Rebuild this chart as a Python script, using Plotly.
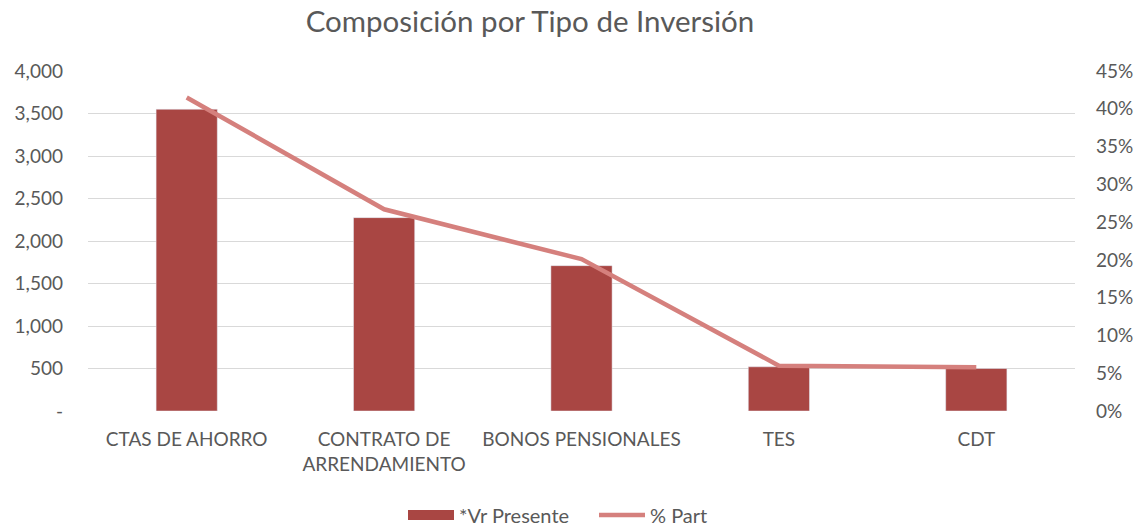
import plotly.graph_objects as go

categories = ["CTAS DE AHORRO", "CONTRATO DE<br>ARRENDAMIENTO", "BONOS PENSIONALES", "TES", "CDT"]
vr_presente = [3550, 2275, 1710, 520, 500]
pct_part = [0.415, 0.267, 0.201, 0.060, 0.058]

left_ticks = [0, 500, 1000, 1500, 2000, 2500, 3000, 3500, 4000]
left_labels = ["-", "500", "1,000", "1,500", "2,000", "2,500", "3,000", "3,500", "4,000"]
right_ticks = [0, 0.05, 0.10, 0.15, 0.20, 0.25, 0.30, 0.35, 0.40, 0.45]

FONT = "Lato"
GRAY = "#595959"
BAR = "#A94643"
LINE = "#D5807D"

fig = go.Figure()
fig.add_trace(go.Bar(x=categories, y=vr_presente, name="*Vr Presente",
                     marker=dict(color=BAR), yaxis="y", showlegend=False))
# legend entry for the bars, drawn as a wide swatch
fig.add_trace(go.Scatter(x=[None], y=[None], name="*Vr Presente", mode="lines",
                         line=dict(color=BAR, width=14), yaxis="y", legendrank=1))
fig.add_trace(go.Scatter(x=categories, y=pct_part, name="% Part", mode="lines",
                         line=dict(color=LINE, width=4.5), yaxis="y2", legendrank=2))

fig.update_layout(
    width=1138, height=529,
    margin=dict(l=88, r=63, t=71, b=118, autoexpand=False),
    paper_bgcolor="white", plot_bgcolor="white",
    font=dict(family=FONT, color=GRAY, size=19),
    title=dict(text="Composición por Tipo de Inversión", x=530 / 1138, xanchor="center",
               y=1 - 22 / 529, yanchor="middle", font=dict(size=29.5, color=GRAY, family=FONT)),
    bargap=0.69,
    xaxis=dict(showgrid=False, showline=False, ticks="", ticklabelstandoff=15,
               tickfont=dict(size=19, color=GRAY)),
    yaxis=dict(range=[0, 4000], tickvals=left_ticks, ticktext=left_labels,
               showgrid=True, gridcolor="#D9D9D9", gridwidth=1, zeroline=False,
               ticks="", ticklabelstandoff=24, tickfont=dict(size=19, color=GRAY)),
    yaxis2=dict(range=[0, 0.45], tickvals=right_ticks, tickformat=".0%", overlaying="y",
                side="right", showgrid=False, zeroline=False, ticks="",
                ticklabelstandoff=20, tickfont=dict(size=19, color=GRAY)),
    legend=dict(orientation="h", x=(403 - 88) / 987, xanchor="left",
                y=-(515 - 411) / 340, yanchor="middle", itemwidth=46,
                entrywidth=130, font=dict(size=20, color=GRAY)),
)

fig.write_html("out.html", config={"displayModeBar": False},
               post_script="document.body.style.margin='0';window.dispatchEvent(new Event('resize'));")
